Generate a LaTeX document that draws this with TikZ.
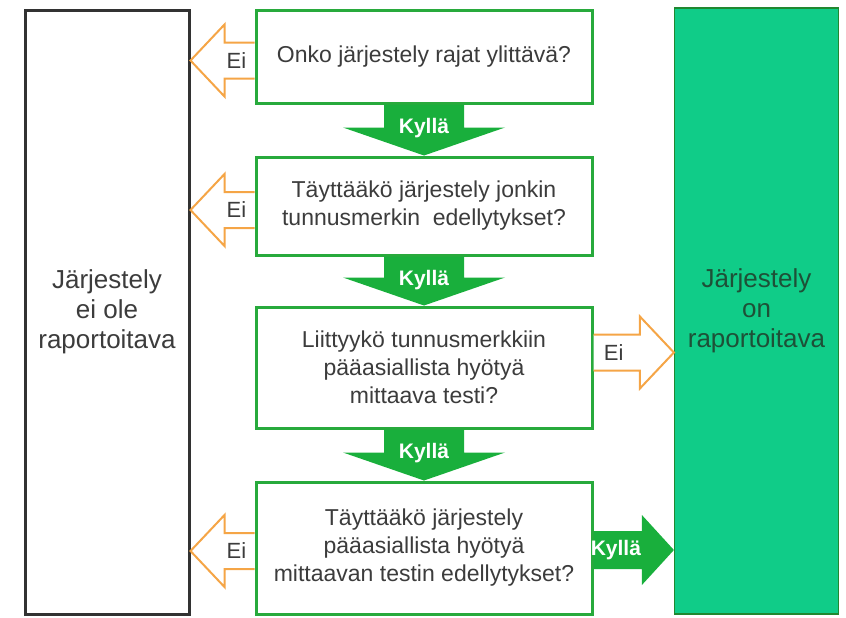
\documentclass[tikz,border=0pt]{standalone}
\usepackage{fontspec}
\setmainfont{Liberation Sans}
\usetikzlibrary{calc}
\definecolor{boxgreen}{RGB}{40,170,60}
\definecolor{kyllagreen}{RGB}{25,175,60}
\definecolor{tealfill}{RGB}{16,204,136}
\definecolor{tealtext}{RGB}{30,80,55}
\definecolor{eiorange}{RGB}{245,165,70}
\definecolor{textgray}{RGB}{60,60,60}
\tikzset{
  qbox/.style={draw=boxgreen, line width=1.5pt, fill=white, align=center, text=textgray,
    font=\fontsize{11.5}{14}\selectfont, minimum width=168pt, inner sep=0pt},
  sidebox/.style={line width=1.5pt, align=center, font=\fontsize{13}{15}\selectfont,
    minimum width=82pt, minimum height=302pt, inner sep=0pt},
  eiline/.style={draw=eiorange, line width=1pt, fill=white},
  eitext/.style={text=textgray, font=\fontsize{11}{13}\selectfont},
  kyllafill/.style={fill=kyllagreen},
  kyllatext/.style={text=white, font=\fontsize{10.5}{12}\selectfont\bfseries}
}
% down arrow: from box #1 to box #2
\newcommand{\kyllad}[2]{
  \coordinate (s) at (#1.south);
  \coordinate (t) at (#1.south |- #2.north);
  \fill[kyllafill] ($(s)+(-40,0)$) -- ($(t)+(-40,-28)$) -- ($(t)+(-81,-28)$) -- (t) -- ($(t)+(81,-28)$) -- ($(t)+(40,-28)$) -- ($(s)+(40,0)$) -- cycle;
  \node[kyllatext] at ($(s)+(0,24)$) {Kyllä};}
% side arrow: from anchor #1 to box #2, shift #3, direction #4 (1 left, -1 right)
\newcommand{\eiarrow}[4]{
  \coordinate (s) at ($(#1)+(0,#3)$);
  \coordinate (t) at (#2 |- s);
  \coordinate (h) at ($(t)+(#4*34,0)$);
  \draw[eiline] ($(s)+(0,-18)$) -- ($(h)+(0,-18)$) -- ($(h)+(0,-36)$) -- (t) -- ($(h)+(0,36)$) -- ($(h)+(0,18)$) -- ($(s)+(0,18)$);
  \node[eitext] at ($(s)!0.5!(h)+(-3,0)$) {Ei};}

\begin{document}
\begin{tikzpicture}[x=0.5pt,y=-0.5pt]
  \useasboundingbox (0,0) rectangle (846,617);

  % side boxes
  \node[sidebox, draw={rgb,255:red,50;green,50;blue,50}, fill=white, text=textgray] (no) at (107,312)
    {Järjestely\\ei ole\\raportoitava};
  \node[sidebox, draw=boxgreen!80!black, line width=0.6pt, fill=tealfill, text=tealtext,
    minimum height=303pt] (yes) at (756.5,311) {Järjestely\\on\\raportoitava};

  % questions
  \node[qbox, minimum height=46.5pt] (q1) at (424,56.5) {Onko järjestely rajat ylittävä?};
  \node[qbox, minimum height=49pt] (q2) at (424,206) {Täyttääkö järjestely jonkin\\tunnusmerkin\ \ edellytykset?};
  \node[qbox, minimum height=60.5pt] (q3) at (424,367.5) {Liittyykö tunnusmerkkiin\\pääasiallista hyötyä\\mittaava testi?};
  \node[qbox, minimum height=66pt] (q4) at (424,548) {Täyttääkö järjestely\\pääasiallista hyötyä\\mittaavan testin edellytykset?};

  % kyllä
  \kyllad{q1}{q2}
  \kyllad{q2}{q3}
  \kyllad{q3}{q4}

  % ei
  \eiarrow{q1.west}{no.east}{4}{1}
  \eiarrow{q2.west}{no.east}{4}{1}
  \eiarrow{q4.west}{no.east}{3}{1}
  \eiarrow{q3.east}{yes.west}{-15}{-1}

  % last kyllä
  \coordinate (s) at ($(q4.east)+(0,2)$);
  \coordinate (t) at (yes.west |- s);
  \fill[kyllafill] ($(s)+(0,-19)$) -- ($(t)+(-32,-19)$) -- ($(t)+(-32,-35)$) -- (t) -- ($(t)+(-32,35)$) -- ($(t)+(-32,19)$) -- ($(s)+(0,19)$) -- cycle;
  \node[kyllatext] at ($(t)+(-58,0)$) {Kyllä};
\end{tikzpicture}
\end{document}
